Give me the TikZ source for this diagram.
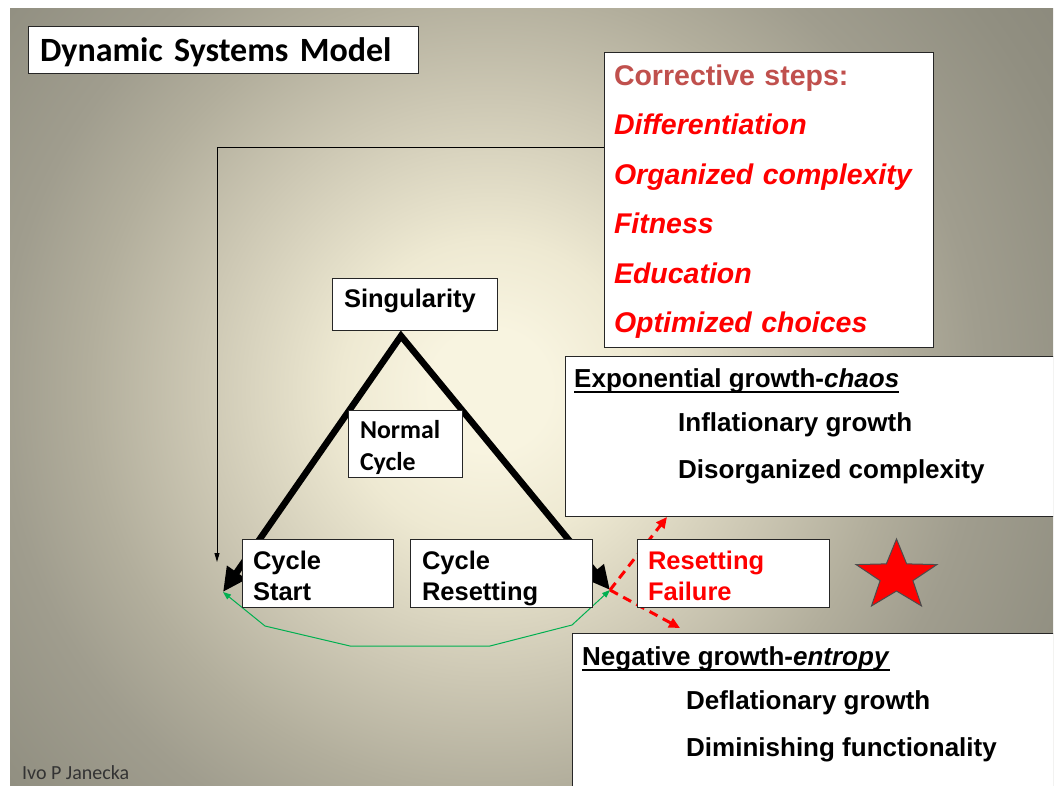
\documentclass[tikz,border=0pt]{standalone}
\usepackage{fontspec}
\setmainfont{Liberation Sans}
\newfontfamily\calibri{Carlito}
\usepackage{tikz}
\usetikzlibrary{positioning}
\usetikzlibrary{arrows.meta}
\definecolor{stepsColor}{RGB}{192,80,77}
\definecolor{failColor}{RGB}{255,0,0}
\definecolor{loopColor}{RGB}{0,176,80}
\definecolor{glowA}{RGB}{248,244,224}
\definecolor{glowB}{RGB}{238,233,210}
\definecolor{glowC}{RGB}{205,200,180}
\definecolor{glowD}{RGB}{178,174,156}
\definecolor{glowE}{RGB}{160,157,142}
\definecolor{glowF}{RGB}{145,143,129}
\definecolor{glowG}{RGB}{135,133,120}
\pgfdeclareradialshading{slideGlow}{\pgfpoint{0bp}{0bp}}{color(0bp)=(glowA); color(2bp)=(glowA); color(4.9bp)=(glowB); color(9.5bp)=(glowC); color(13.2bp)=(glowD); color(16.1bp)=(glowE); color(20.4bp)=(glowF); color(25bp)=(glowG); color(50bp)=(glowG)}
\pgfdeclarelayer{slide}
\pgfdeclarelayer{links}
\pgfsetlayers{slide,links,main}
\newsavebox{\headbox}
\newcommand{\ulhead}[1]{\sbox{\headbox}{#1}\rlap{\rule[-6pt]{\wd\headbox}{2pt}}\usebox{\headbox}}

\begin{document}
\begin{tikzpicture}[x=1pt,y=-1pt]

  \tikzstyle{plainBox} = [draw=black!85, fill=white, line width=0.8pt, inner sep=0pt, align=left];
  \tikzstyle{titleText} = [font=\calibri\bfseries\fontsize{34}{40}\selectfont, text height=31pt, text depth=8pt];
  \tikzstyle{labelText} = [font=\bfseries\fontsize{25.5}{31}\selectfont];
  \tikzstyle{pairText} = [labelText, text height=28pt, text depth=36pt];
  \tikzstyle{cycleText} = [font=\calibri\bfseries\fontsize{25.8}{32}\selectfont, text height=27.6pt, text depth=38pt];
  \tikzstyle{stepsText} = [font=\bfseries\fontsize{28.5}{49.5}\selectfont, text height=26pt, text depth=254.5pt];
  \tikzstyle{growthText} = [font=\bfseries\fontsize{26}{30}\selectfont, anchor=base west, inner sep=0pt];

  \tikzstyle{heavyEdge} = [line width=6.5pt, line join=miter, {Triangle[length=24pt,width=22pt]}-{Triangle[length=24pt,width=22pt]}];
  \tikzstyle{thinEdge} = [line width=0.9pt, -{Triangle[length=9pt,width=5pt]}];
  \tikzstyle{loopEdge} = [loopColor, line width=1pt, {Triangle[length=8pt,width=6pt]}-{Triangle[length=8pt,width=6pt]}];
  \tikzstyle{failEdge} = [failColor, line width=3pt, dash pattern=on 9pt off 6pt, -{Triangle[length=11pt,width=10pt]}];

  \useasboundingbox (0,0) rectangle (1060,785);

  % slide background
  \begin{pgfonlayer}{slide}
    \begin{scope}
      \clip (10,8) rectangle (1053,785);
      \shade[shading=slideGlow] (490,390) circle (760pt);
    \end{scope}
  \end{pgfonlayer}

  \node[plainBox, titleText, minimum width=390pt, minimum height=47pt, text width=366pt] (title) at (223,49.5) {Dynamic Systems Model};
  \node[plainBox, stepsText, minimum width=329pt, minimum height=295pt, text width=309pt] (steps) at (768.5,199.5)
    {{\color{stepsColor}Corrective steps:}\\
     {\color{failColor}\itshape Differentiation}\\
     {\color{failColor}\itshape Organized complexity}\\
     {\color{failColor}\itshape Fitness}\\
     {\color{failColor}\itshape Education}\\
     {\color{failColor}\itshape Optimized choices}};

  \node[plainBox, labelText, text height=18pt, text depth=12pt, minimum width=165pt, minimum height=52pt, text width=141pt] (sing) at (414.5,304) {Singularity};
  \node[plainBox, cycleText, minimum width=114pt, minimum height=67pt, text width=90pt] (normal) at (405,443.5) {Normal\\Cycle};
  \node[plainBox, pairText, minimum width=151pt, minimum height=68pt, text width=129pt] (start) at (317.5,573) {Cycle\\Start};
  \node[plainBox, pairText, minimum width=182pt, minimum height=68pt, text width=158pt] (reset) at (501,573) {Cycle\\Resetting};
  \node[plainBox, pairText, text=failColor, minimum width=192pt, minimum height=68pt, text width=170pt] (fail) at (733,573) {Resetting\\Failure};

  % growth boxes run off the slide
  \begin{scope}
    \clip (10,8) rectangle (1053,785);
    \node[plainBox, minimum width=500pt, minimum height=160pt, anchor=north west] (expo) at (565,356) {};
    \node[plainBox, minimum width=500pt, minimum height=170pt, anchor=north west] (nega) at (572,633) {};
  \end{scope}
  \node[growthText] (expoHead) at (574,387) {\ulhead{Exponential growth-\textit{chaos}}};
  \node[growthText] (expoOne) at (678,431) {Inflationary growth};
  \node[growthText] (expoTwo) at (678,478) {Disorganized complexity};
  \node[growthText] (negaHead) at (582,665) {\ulhead{Negative growth-\textit{entropy}}};
  \node[growthText] (negaOne) at (686,709) {Deflationary growth};
  \node[growthText] (negaTwo) at (686,756) {Diminishing functionality};

  % star
  \draw[fill=failColor, draw=black!70, line width=1pt, shift={(896.5,576)}, xscale=1.15]
    (270:37) -- (306:15) -- (342:37) -- (18:15) -- (54:37) -- (90:15) -- (126:37) -- (162:15) -- (198:37) -- (234:15) -- cycle;

  \node[font=\calibri\fontsize{20}{20}\selectfont, text=black!80, anchor=base west, inner sep=0pt] (author) at (22,779) {Ivo P Janecka};

  \coordinate (startTip) at (223,592);
  \coordinate (resetTip) at (610,590);
  \coordinate (chaosTip) at (667,517);
  \coordinate (entropyTip) at (680,628);
  \coordinate (loopEnd) at (217,562);

  \begin{pgfonlayer}{links}
    \draw[heavyEdge] (startTip) -- ([xshift=-13.5pt,yshift=-5.5pt]sing.south) -- (resetTip);
    \draw[thinEdge] (steps.west |- 0,147) -| (loopEnd);
    \draw[loopEdge] (startTip) -- (265,626) -- (350,646) -- (490,646) -- (572,625) -- (resetTip);
    \draw[failEdge] (resetTip) -- (chaosTip);
    \draw[failEdge] (resetTip) -- (entropyTip);
  \end{pgfonlayer}
\end{tikzpicture}
\end{document}
